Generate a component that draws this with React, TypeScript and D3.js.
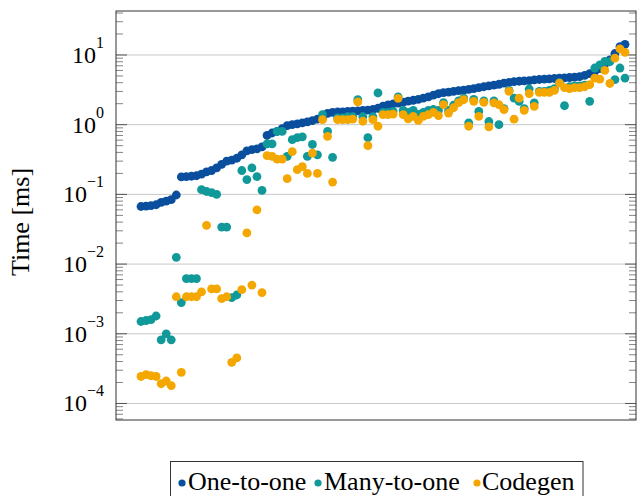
import React from "react";
import * as d3 from "d3";

const oneToOne = [
  0.067, 0.068, 0.069, 0.071, 0.077, 0.08, 0.084, 0.098,
  0.178, 0.18, 0.182, 0.185, 0.195, 0.21, 0.22,
  0.24, 0.27, 0.3, 0.31, 0.33, 0.37, 0.42, 0.44, 0.45, 0.48,
  0.7, 0.76, 0.8, 0.88, 0.97, 1.0, 1.03, 1.06, 1.1, 1.14, 1.2, 1.26,
  1.45, 1.5, 1.52, 1.53, 1.55, 1.56, 1.58, 1.6, 1.62, 1.65, 1.72,
  1.85, 1.92, 1.98, 2.04, 2.1, 2.18, 2.24, 2.3, 2.4, 2.5, 2.65, 2.78, 2.88, 2.94, 3.0,
  3.08, 3.14, 3.2, 3.3, 3.4, 3.5, 3.6, 3.7, 3.8, 3.95, 4.05, 4.15, 4.2, 4.25, 4.3, 4.38, 4.45,
  4.5, 4.55, 4.6, 4.65, 4.7, 4.75, 4.8, 4.9, 5.1,
  5.4, 5.8, 6.4, 7.4, 8.5, 10.5, 13.2, 14.2,
];

const manyToOne = [
  0.0015, 0.00155, 0.0016, 0.0018,
  0.00082, 0.001, 0.00082,
  0.0125, 0.0028,
  0.0062, 0.0062, 0.0062,
  0.117, 0.11, 0.106, 0.1,
  0.034, 0.034,
  0.0033, 0.0036,
  0.22, 0.163, 0.24, 0.18, 0.114,
  0.53, 0.53, 0.8, 0.8,
  0.35, 0.61, 0.65, 0.67,
  0.35, 0.52, 0.37,
  1.39, 0.8, 0.34,
  1.25, 1.25, 1.3, 1.3,
  2.28, 1.3, 0.65, 1.3, 2.85,
  1.5, 1.5, 1.55, 2.5,
  1.6, 1.5, 1.6, 1.4, 1.5, 1.6, 1.65, 1.6,
  2.07, 1.6, 1.9, 2.2, 2.4, 1.06, 2.3,
  1.55, 2.2, 1.11, 2.2, 1.0, 1.7, 3.1,
  2.4, 2.16, 1.7, 3.25, 2.05,
  3.0, 3.0, 3.1, 3.3, 4.0, 1.87,
  3.5, 3.6, 3.6, 3.7, 2.16,
  6.5, 7.2, 8.1, 8.0, 4.42, 6.5, 4.67,
];

const codegen = [
  0.000244, 0.00026, 0.00025, 0.000244,
  0.000192, 0.00021, 0.00018,
  0.0034, 0.00028,
  0.0034, 0.0034, 0.0034,
  0.004, 0.036, 0.0044, 0.0044,
  0.0032, 0.0034,
  0.00039, 0.00045,
  0.0043, 0.028, 0.005, 0.06, 0.0039,
  0.36, 0.35, 0.32, 0.32,
  0.168, 0.41, 0.226, 0.25,
  0.2, 0.39, 0.2,
  1.18, 0.68, 0.15,
  1.18, 1.18, 1.18, 1.2,
  2.12, 1.12, 0.5, 1.18, 0.95,
  1.39, 1.39, 1.42, 2.39,
  1.39, 1.21, 1.32, 1.15, 1.32, 1.39, 1.5, 1.35,
  1.94, 1.47, 1.75, 2.07, 2.28, 0.95, 2.16,
  1.32, 2.09, 0.93, 2.05, 1.94, 1.64, 3.0,
  1.2, 2.4, 1.6, 2.8, 1.83,
  2.9, 2.9, 2.9, 3.1, 3.95, 3.4,
  3.3, 3.4, 3.4, 3.5, 3.75,
  4.67, 4.5, 6.0, 3.9, 9.0, 12.2, 10.9,
];

const seriesNames = ["One-to-one", "Many-to-one", "Codegen"];
const seriesColors = ["#0a4f9e", "#11999a", "#f4a700"];
const decades = [-4, -3, -2, -1, 0, 1];

const W = 637;
const H = 496;
const L = 116, R = 636, T = 11, B = 420;

export default function App() {
  const n = oneToOne.length;
  const x = d3.scaleLinear().domain([0, n - 1]).range([141, 625]);
  const y = d3.scaleLog().domain([Math.pow(10, -4.237), Math.pow(10, 1.631)]).range([B, T]);
  const series = [oneToOne, manyToOne, codegen];

  const minor: number[] = [];
  for (let k = -5; k <= 1; k++) {
    for (let m = 2; m <= 9; m++) {
      const v = m * Math.pow(10, k);
      const py = y(v);
      if (py >= T && py <= B) minor.push(py);
    }
  }

  const font = "'Liberation Serif', 'Times New Roman', serif";

  return (
    <svg width={W} height={H} style={{ position: "absolute", left: 0, top: 0 }} fontFamily={font}>
      <rect x={0} y={0} width={W} height={H} fill="#fff" />
      {decades.map((d) => (
        <line key={"g" + d} x1={L} x2={R} y1={y(Math.pow(10, d))} y2={y(Math.pow(10, d))} stroke="#c8c8c8" strokeWidth={1} />
      ))}
      {minor.map((py, i) => (
        <g key={"m" + i}>
          <line x1={L} x2={L + 7} y1={py} y2={py} stroke="#666" strokeWidth={0.8} />
          <line x1={R} x2={R - 7} y1={py} y2={py} stroke="#666" strokeWidth={0.8} />
        </g>
      ))}
      {decades.map((d) => (
        <g key={"t" + d}>
          <line x1={L} x2={L + 11} y1={y(Math.pow(10, d))} y2={y(Math.pow(10, d))} stroke="#555" strokeWidth={1} />
          <line x1={R} x2={R - 11} y1={y(Math.pow(10, d))} y2={y(Math.pow(10, d))} stroke="#555" strokeWidth={1} />
          <text x={104} y={y(Math.pow(10, d)) + 8} textAnchor="end" fontSize={24} fill="#000">
            10
            <tspan dy={-15} fontSize={16}>{d < 0 ? "\u2212" + Math.abs(d) : String(d)}</tspan>
          </text>
        </g>
      ))}
      {series.map((s, si) => (
        <g key={"s" + si} fill={seriesColors[si]}>
          {s.map((v, i) => (
            <circle key={i} cx={x(i)} cy={y(v)} r={4.4} />
          ))}
        </g>
      ))}
      <rect x={L} y={T} width={R - L} height={B - T} fill="none" stroke="#333" strokeWidth={1} />
      <text transform={`translate(29,222) rotate(-90)`} textAnchor="middle" fontSize={26} fill="#000">
        Time [ms]
      </text>
      <rect x={170.5} y={461.5} width={412.5} height={40} fill="#fff" stroke="#333" strokeWidth={1} />
      {[
        { cx: 182, tx: 188 },
        { cx: 318, tx: 324 },
        { cx: 477, tx: 482 },
      ].map((p, i) => (
        <g key={"l" + i}>
          <circle cx={p.cx} cy={483} r={3.6} fill={seriesColors[i]} />
          <text x={p.tx} y={490} fontSize={26} fill="#000">{seriesNames[i]}</text>
        </g>
      ))}
    </svg>
  );
}
